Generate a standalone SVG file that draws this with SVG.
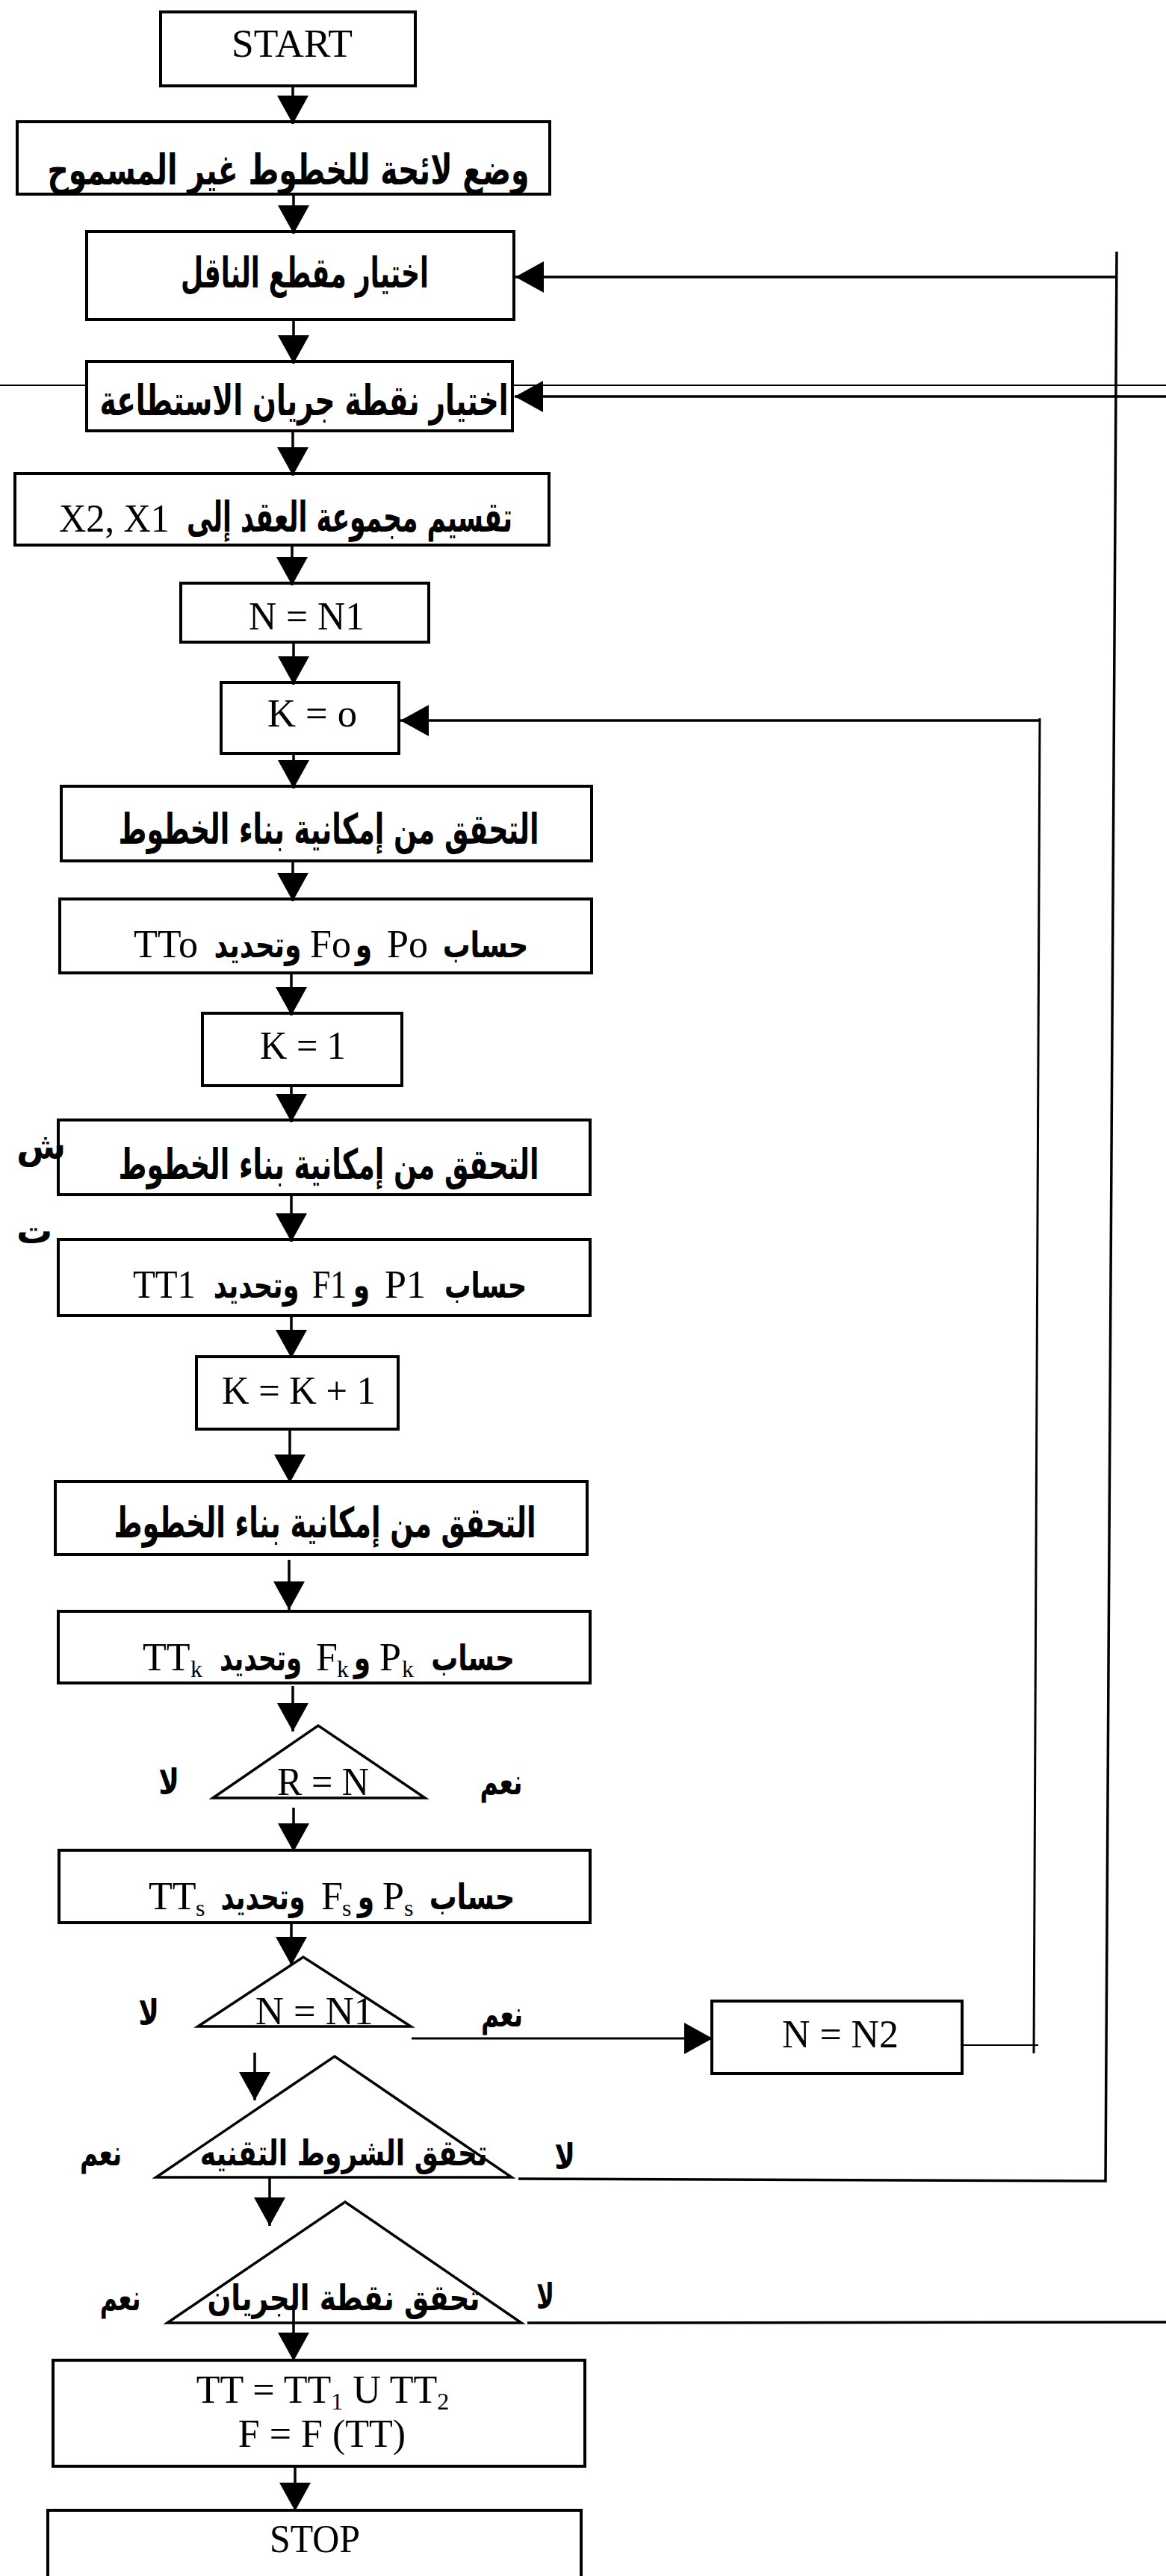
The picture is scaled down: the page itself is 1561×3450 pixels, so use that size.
<svg xmlns="http://www.w3.org/2000/svg" width="1561" height="3450" viewBox="0 0 1561 3450">
<style>
.box{fill:#fff;stroke:#000;stroke-width:4}
.tri{fill:#fff;stroke:#000;stroke-width:3.5;stroke-linejoin:miter}
.con{stroke:#000;stroke-width:3.5;fill:none}
.thin{stroke-width:2}
.lat{font-family:'Liberation Serif','Times New Roman',serif;font-size:52px;fill:#000}
.ar{font-family:'DejaVu Sans',sans-serif;font-weight:bold;font-size:56px;fill:#000}
.arm{font-family:'DejaVu Sans',sans-serif;font-weight:bold;font-size:48px;fill:#000}
.lbl{font-family:'DejaVu Sans',sans-serif;font-weight:bold;font-size:48px;fill:#000}
.sub{font-size:32px}
</style>
<defs>
<marker id="ah" markerUnits="userSpaceOnUse" markerWidth="38" markerHeight="42" viewBox="0 0 38 42" refX="38" refY="21" orient="auto">
<path d="M0,0 L38,21 L0,42 z" fill="#000"/>
</marker>
</defs>
<rect width="1561" height="3450" fill="#fff"/>

<g id="nodes">
<g id="n-start"><rect class="box" x="215" y="16" width="341" height="99"/><text class="lat" x="310" y="76" font-size="55" textLength="162" lengthAdjust="spacingAndGlyphs">START</text></g>
<g id="n-list"><rect class="box" x="23" y="163" width="713" height="97"/><text class="ar" x="386" y="247" text-anchor="middle" direction="rtl" textLength="645" lengthAdjust="spacingAndGlyphs">وضع لائحة للخطوط غير المسموح</text></g>
<g id="n-section"><rect class="box" x="116" y="310" width="572" height="118"/><text class="ar" x="408" y="385" text-anchor="middle" direction="rtl" textLength="332" lengthAdjust="spacingAndGlyphs">اختيار مقطع الناقل</text></g>
<g id="n-flowpoint"><rect class="box" x="116" y="484" width="570" height="93"/><text class="ar" x="407" y="556" text-anchor="middle" direction="rtl" textLength="547" lengthAdjust="spacingAndGlyphs">اختيار نقطة جريان الاستطاعة</text></g>
<g id="n-divide"><rect class="box" x="20" y="634" width="715" height="96"/><text class="lat" x="79" y="712" textLength="148" lengthAdjust="spacingAndGlyphs">X2, X1</text><text class="ar" transform="translate(468,712) scale(0.8,1)" text-anchor="middle" direction="rtl" textLength="545" lengthAdjust="spacingAndGlyphs">تقسيم مجموعة العقد إلى</text></g>
<g id="n-n1"><rect class="box" x="242" y="781" width="332" height="79"/><text class="lat" x="333" y="843" font-size="54" textLength="155" lengthAdjust="spacingAndGlyphs">N = N1</text></g>
<g id="n-k0"><rect class="box" x="296" y="914" width="238" height="95"/><text class="lat" x="358" y="973" font-size="54" textLength="120" lengthAdjust="spacingAndGlyphs">K = o</text></g>
<g id="n-check0"><rect class="box" x="82" y="1053" width="710" height="100"/><text class="ar" x="440" y="1130" text-anchor="middle" direction="rtl" textLength="563" lengthAdjust="spacingAndGlyphs">التحقق من إمكانية بناء الخطوط</text></g>
<g id="n-calc0"><rect class="box" x="80" y="1204" width="712" height="99"/>
<text class="lat" x="179" y="1282" textLength="86" lengthAdjust="spacingAndGlyphs">TTo</text>
<text class="arm" transform="translate(345,1282) scale(0.75,1)" text-anchor="middle" direction="rtl" textLength="156" lengthAdjust="spacingAndGlyphs">وتحديد</text>
<text class="lat" x="415" y="1282" textLength="55" lengthAdjust="spacingAndGlyphs">Fo</text>
<text class="arm" transform="translate(487,1282) scale(0.75,1)" text-anchor="middle" direction="rtl">و</text>
<text class="lat" x="518" y="1282" textLength="55" lengthAdjust="spacingAndGlyphs">Po</text>
<text class="arm" transform="translate(650,1282) scale(0.75,1)" text-anchor="middle" direction="rtl" textLength="153" lengthAdjust="spacingAndGlyphs">حساب</text></g>
<g id="n-k1"><rect class="box" x="271" y="1357" width="267" height="97"/><text class="lat" x="348" y="1418" font-size="52" textLength="115" lengthAdjust="spacingAndGlyphs">K = 1</text></g>
<g id="n-check1"><rect class="box" x="78" y="1500" width="712" height="100"/><text class="ar" x="440" y="1579" text-anchor="middle" direction="rtl" textLength="563" lengthAdjust="spacingAndGlyphs">التحقق من إمكانية بناء الخطوط</text></g>
<g id="n-calc1"><rect class="box" x="78" y="1660" width="712" height="102"/>
<text class="lat" x="178" y="1738" textLength="84" lengthAdjust="spacingAndGlyphs">TT1</text>
<text class="arm" transform="translate(343,1738) scale(0.75,1)" text-anchor="middle" direction="rtl" textLength="153" lengthAdjust="spacingAndGlyphs">وتحديد</text>
<text class="lat" x="418" y="1738" textLength="46" lengthAdjust="spacingAndGlyphs">F1</text>
<text class="arm" transform="translate(484,1738) scale(0.75,1)" text-anchor="middle" direction="rtl">و</text>
<text class="lat" x="515" y="1738" textLength="55" lengthAdjust="spacingAndGlyphs">P1</text>
<text class="arm" transform="translate(650,1738) scale(0.75,1)" text-anchor="middle" direction="rtl" textLength="147" lengthAdjust="spacingAndGlyphs">حساب</text></g>
<g id="n-kinc"><rect class="box" x="263" y="1817" width="270" height="97"/><text class="lat" x="297" y="1880" font-size="52" textLength="206" lengthAdjust="spacingAndGlyphs">K = K + 1</text></g>
<g id="n-checkk"><rect class="box" x="74" y="1984" width="712" height="98"/><text class="ar" x="435" y="2059" text-anchor="middle" direction="rtl" textLength="565" lengthAdjust="spacingAndGlyphs">التحقق من إمكانية بناء الخطوط</text></g>
<g id="n-calck"><rect class="box" x="78" y="2158" width="712" height="96"/>
<text class="lat" x="191" y="2237">TT</text><text class="lat sub" x="255" y="2246">k</text>
<text class="arm" transform="translate(349,2237) scale(0.75,1)" text-anchor="middle" direction="rtl" textLength="147" lengthAdjust="spacingAndGlyphs">وتحديد</text>
<text class="lat" x="423" y="2237">F</text><text class="lat sub" x="451" y="2246">k</text>
<text class="arm" transform="translate(485,2237) scale(0.75,1)" text-anchor="middle" direction="rtl">و</text>
<text class="lat" x="508" y="2237">P</text><text class="lat sub" x="538" y="2246">k</text>
<text class="arm" transform="translate(633,2237) scale(0.75,1)" text-anchor="middle" direction="rtl" textLength="149" lengthAdjust="spacingAndGlyphs">حساب</text></g>
<g id="n-rn"><polygon class="tri" points="285,2408 426,2311 569,2408"/><text class="lat" x="371" y="2404" font-size="50" textLength="123" lengthAdjust="spacingAndGlyphs">R = N</text><text class="lbl" transform="translate(226,2403) scale(0.75,1)" text-anchor="middle" direction="rtl" textLength="37" lengthAdjust="spacingAndGlyphs">لا</text><text class="lbl" transform="translate(671,2403) scale(0.75,1)" text-anchor="middle" direction="rtl" textLength="76" lengthAdjust="spacingAndGlyphs">نعم</text></g>
<g id="n-calcs"><rect class="box" x="79" y="2478" width="711" height="97"/>
<text class="lat" x="199" y="2557">TT</text><text class="lat sub" x="262" y="2566">s</text>
<text class="arm" transform="translate(352,2557) scale(0.75,1)" text-anchor="middle" direction="rtl" textLength="151" lengthAdjust="spacingAndGlyphs">وتحديد</text>
<text class="lat" x="430" y="2557">F</text><text class="lat sub" x="458" y="2566">s</text>
<text class="arm" transform="translate(490,2557) scale(0.75,1)" text-anchor="middle" direction="rtl">و</text>
<text class="lat" x="512" y="2557">P</text><text class="lat sub" x="541" y="2566">s</text>
<text class="arm" transform="translate(632,2557) scale(0.75,1)" text-anchor="middle" direction="rtl" textLength="153" lengthAdjust="spacingAndGlyphs">حساب</text></g>
<g id="n-nn1"><polygon class="tri" points="265,2714 406,2621 550,2714"/><text class="lat" x="342" y="2711" font-size="50" textLength="158" lengthAdjust="spacingAndGlyphs">N = N1</text><text class="lbl" transform="translate(199,2712) scale(0.75,1)" text-anchor="middle" direction="rtl" textLength="37" lengthAdjust="spacingAndGlyphs">لا</text><text class="lbl" transform="translate(672,2714) scale(0.75,1)" text-anchor="middle" direction="rtl" textLength="75" lengthAdjust="spacingAndGlyphs">نعم</text></g>
<g id="n-n2"><rect class="box" x="953" y="2680" width="335" height="97"/><text class="lat" x="1047" y="2742" font-size="52" textLength="156" lengthAdjust="spacingAndGlyphs">N = N2</text></g>
<g id="n-tech"><polygon class="tri" points="209,2916 448,2754 685,2916"/><text class="arm" transform="translate(460,2900) scale(0.75,1)" text-anchor="middle" direction="rtl" textLength="513" lengthAdjust="spacingAndGlyphs">تحقق الشروط التقنيه</text><text class="lbl" transform="translate(135,2900) scale(0.75,1)" text-anchor="middle" direction="rtl" textLength="75" lengthAdjust="spacingAndGlyphs">نعم</text><text class="lbl" transform="translate(756,2905) scale(0.75,1)" text-anchor="middle" direction="rtl" textLength="37" lengthAdjust="spacingAndGlyphs">لا</text></g>
<g id="n-flow"><polygon class="tri" points="224,3111 462,2949 698,3111"/><text class="arm" transform="translate(460,3094) scale(0.75,1)" text-anchor="middle" direction="rtl" textLength="487" lengthAdjust="spacingAndGlyphs">تحقق نقطة الجريان</text><text class="lbl" transform="translate(161,3094) scale(0.75,1)" text-anchor="middle" direction="rtl" textLength="73" lengthAdjust="spacingAndGlyphs">نعم</text><text class="lbl" transform="translate(730,3092) scale(0.75,1)" text-anchor="middle" direction="rtl" textLength="32" lengthAdjust="spacingAndGlyphs">لا</text></g>
<g id="n-result"><rect class="box" x="71" y="3161" width="712" height="142"/><text class="lat" x="432" y="3218" text-anchor="middle" font-size="50">TT = TT<tspan class="sub" baseline-shift="-9">1</tspan> U TT<tspan class="sub" baseline-shift="-9">2</tspan></text><text class="lat" x="431" y="3277" text-anchor="middle" font-size="50">F = F (TT)</text></g>
<g id="n-stop"><rect class="box" x="64" y="3362" width="714" height="110"/><text class="lat" x="361" y="3418" font-size="50" textLength="121" lengthAdjust="spacingAndGlyphs">STOP</text></g>
<g id="fragments"><text class="lbl" x="22" y="1552" text-anchor="end" direction="rtl" font-size="42">ش</text><text class="lbl" x="22" y="1665" text-anchor="end" direction="rtl" font-size="42">ت</text></g>
</g>

<g id="connectors" class="con">
<line x1="392" y1="115" x2="392" y2="166" marker-end="url(#ah)"/>
<line x1="393" y1="260" x2="393" y2="313" marker-end="url(#ah)"/>
<line x1="393" y1="428" x2="393" y2="487" marker-end="url(#ah)"/>
<line x1="392" y1="577" x2="392" y2="637" marker-end="url(#ah)"/>
<line x1="391" y1="730" x2="391" y2="784" marker-end="url(#ah)"/>
<line x1="393" y1="860" x2="393" y2="917" marker-end="url(#ah)"/>
<line x1="393" y1="1009" x2="393" y2="1056" marker-end="url(#ah)"/>
<line x1="392" y1="1153" x2="392" y2="1207" marker-end="url(#ah)"/>
<line x1="390" y1="1303" x2="390" y2="1360" marker-end="url(#ah)"/>
<line x1="390" y1="1454" x2="390" y2="1503" marker-end="url(#ah)"/>
<line x1="390" y1="1600" x2="390" y2="1663" marker-end="url(#ah)"/>
<line x1="390" y1="1762" x2="390" y2="1819" marker-end="url(#ah)"/>
<line x1="388" y1="1914" x2="388" y2="1986" marker-end="url(#ah)"/>
<line x1="387" y1="2089" x2="387" y2="2156" marker-end="url(#ah)"/>
<line x1="392" y1="2258" x2="392" y2="2319" marker-end="url(#ah)"/>
<line x1="393" y1="2421" x2="393" y2="2480" marker-end="url(#ah)"/>
<line x1="390" y1="2575" x2="390" y2="2632" marker-end="url(#ah)"/>
<line x1="341" y1="2749" x2="341" y2="2813" marker-end="url(#ah)"/>
<line x1="361" y1="2916" x2="361" y2="2981" marker-end="url(#ah)"/>
<line x1="393" y1="3088" x2="393" y2="3162" marker-end="url(#ah)"/>
<line x1="395" y1="3303" x2="395" y2="3363" marker-end="url(#ah)"/>
<path d="M694,2918 L1480,2921 L1495,337"/>
<line x1="1495" y1="371" x2="690" y2="371" marker-end="url(#ah)"/>
<path class="thin" d="M1288,2739 L1390,2739"/>
<path style="stroke-width:3" d="M1384,2750 L1392,962"/>
<line x1="1392" y1="965" x2="536" y2="965" marker-end="url(#ah)"/>
<line style="stroke-width:3" x1="551" y1="2730" x2="954" y2="2730" marker-end="url(#ah)"/>
<line x1="706" y1="3111" x2="1561" y2="3110"/>
<line x1="1561" y1="531" x2="689" y2="531" marker-end="url(#ah)"/>
<line class="thin" x1="0" y1="516" x2="116" y2="516"/>
<line class="thin" x1="686" y1="516" x2="1561" y2="516"/>
</g>
</svg>
